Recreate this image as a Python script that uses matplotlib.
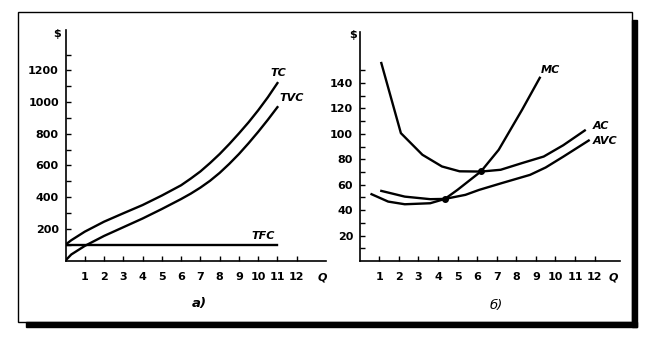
import matplotlib
matplotlib.use("Agg")
import matplotlib.pyplot as plt
from matplotlib.patches import Rectangle

# panel a) -- total costs
q_tc = [0, 0.3, 1, 2, 3, 4, 5, 6, 6.5, 7, 7.5, 8, 8.5, 9, 9.5, 10, 10.5, 11]
tc = [100, 128, 182, 245, 298, 350, 410, 475, 517, 562, 615, 672, 735, 802, 872, 948, 1030, 1120]
q_tvc = [0, 0.3, 1, 2, 3, 4, 5, 6, 6.5, 7, 7.5, 8, 8.5, 9, 9.5, 10, 10.5, 11]
tvc = [0, 38, 92, 155, 210, 265, 325, 388, 422, 460, 503, 553, 610, 672, 740, 812, 888, 968]
q_tfc = [0, 11]
tfc = [100, 100]

# panel b) -- average and marginal costs
q_mc = [0.6, 1.45, 2.3, 3.6, 4.35, 5.0, 6.2, 7.1, 8.3, 9.2]
mc = [52.5, 46.7, 44.6, 45.4, 48.8, 56, 70.5, 87.4, 119, 144]
q_avc = [1.1, 2.3, 3.6, 4.35, 5.4, 6.1, 7.25, 8.7, 9.5, 10.4, 11.7]
avc = [55.1, 50.6, 48.6, 48.8, 52, 55.9, 61.2, 67.7, 73.5, 82, 94.7]
q_ac = [1.1, 2.1, 3.2, 4.2, 5.1, 6.2, 7.2, 8.3, 9.4, 10.4, 11.5]
ac = [155.6, 100.5, 83.5, 74.3, 70.5, 70.3, 71.7, 77, 82.1, 91, 102.6]
q_dots = [4.35, 6.2]
v_dots = [48.8, 70.5]

q_ticks = list(range(1, 13))
left_ticks = [200, 400, 600, 800, 1000, 1200]
right_ticks = [20, 40, 60, 80, 100, 120, 140]

W, H = 647, 341
fig = plt.figure(figsize=(W / 100, H / 100), dpi=100)
plt.rcParams['font.family'] = 'DejaVu Sans'


def px_axes(x0, x1, ytop, ybot):
    return fig.add_axes([x0 / W, 1 - ybot / H, (x1 - x0) / W, (ybot - ytop) / H])


def px_text(x, y, s, **kw):
    fig.text(x / W, 1 - y / H, s, ha='center', va='center', **kw)


def style(ax):
    for s in ['top', 'right']:
        ax.spines[s].set_visible(False)
    for s in ['left', 'bottom']:
        ax.spines[s].set_linewidth(1.2)
    ax.tick_params(which='both', direction='in', width=1, colors='black')
    ax.tick_params(which='major', length=3.5, labelsize=8)
    ax.tick_params(which='minor', length=3.5)
    ax.tick_params(axis='x', pad=8)
    ax.tick_params(axis='y', pad=4.8)
    for lab in ax.get_xticklabels() + ax.get_yticklabels():
        lab.set_fontweight('bold')


# panel a)
ax1 = px_axes(65.5, 325.6, 30, 260.5)
ax1.plot(q_tc, tc, color='black', lw=1.7)
ax1.plot(q_tvc, tvc, color='black', lw=1.7)
ax1.plot(q_tfc, tfc, color='black', lw=1.7)
ax1.set_xlim(0, 13.5)
ax1.set_ylim(0, 1455)
ax1.set_xticks(q_ticks)
ax1.set_yticks(left_ticks)
ax1.set_yticks(range(100, 1400, 100), minor=True)
style(ax1)

# panel b)
ax2 = px_axes(359.8, 620, 32, 261)
ax2.plot(q_ac, ac, color='black', lw=1.7)
ax2.plot(q_avc, avc, color='black', lw=1.7)
ax2.plot(q_mc, mc, color='black', lw=1.7)
ax2.plot(q_dots, v_dots, 'o', color='black', ms=4)
ax2.set_xlim(0, 13.3)
ax2.set_ylim(0, 180)
ax2.set_xticks(q_ticks)
ax2.set_yticks(right_ticks)
ax2.set_yticks(range(10, 160, 10), minor=True)
style(ax2)

lab = dict(fontsize=8, fontweight='bold', style='italic')
px_text(56.7, 34.3, '$', fontsize=8, fontweight='bold')
px_text(353, 35, '$', fontsize=8, fontweight='bold')
px_text(278, 73, 'TC', **lab)
px_text(292, 98, 'TVC', **lab)
px_text(263, 236, 'TFC', **lab)
px_text(322, 277, 'Q', **lab)
px_text(550, 70, 'MC', **lab)
px_text(601, 126, 'AC', **lab)
px_text(605.5, 141, 'AVC', **lab)
px_text(613, 277, 'Q', **lab)
px_text(199, 304, 'а)', fontsize=9.5, fontweight='bold', style='italic')
px_text(496.7, 305, 'б)', fontsize=9.5, style='italic')

# frame with drop shadow
fig.patches.append(Rectangle((26 / W, 1 - 327.3 / H), (637.3 - 26) / W, 5.6 / H,
                             transform=fig.transFigure, color='black', zorder=0))
fig.patches.append(Rectangle((631.7 / W, 1 - 327.3 / H), 5.6 / W, (327.3 - 20) / H,
                             transform=fig.transFigure, color='black', zorder=0))
fig.patches.append(Rectangle((18.3 / W, 1 - 321.7 / H), (631.7 - 18.3) / W, (321.7 - 11.7) / H,
                             transform=fig.transFigure, fill=False, ec='black', lw=1, zorder=1))

fig.savefig('out.png', dpi=100)
